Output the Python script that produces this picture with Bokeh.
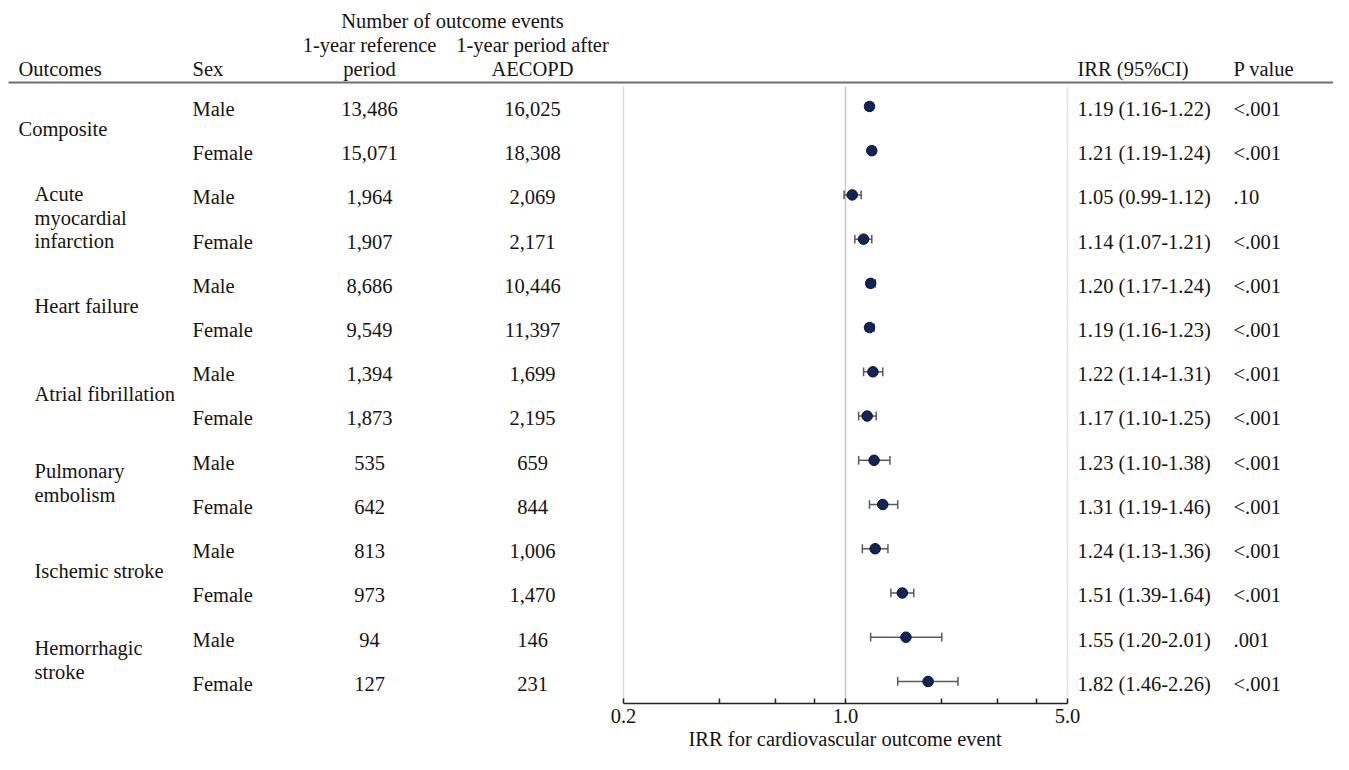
import numpy as np
from bokeh.plotting import figure
from bokeh.models import (Range1d, LogScale, LogAxis, FixedTicker,
                          PrintfTickFormatter, Title)
from bokeh.core.properties import value
from bokeh.embed import file_html
from bokeh.resources import INLINE

# ---------------- data ----------------
outcomes = ["Composite", "Acute\nmyocardial\ninfarction", "Heart failure",
            "Atrial fibrillation", "Pulmonary\nembolism", "Ischemic stroke",
            "Hemorrhagic\nstroke"]
sexes = ["Male", "Female"]
ref_events = [13486, 15071, 1964, 1907, 8686, 9549, 1394, 1873,
              535, 642, 813, 973, 94, 127]
after_events = [16025, 18308, 2069, 2171, 10446, 11397, 1699, 2195,
                659, 844, 1006, 1470, 146, 231]
irr = [1.19, 1.21, 1.05, 1.14, 1.20, 1.19, 1.22, 1.17, 1.23, 1.31, 1.24, 1.51, 1.55, 1.82]
ci_low = [1.16, 1.19, 0.99, 1.07, 1.17, 1.16, 1.14, 1.10, 1.10, 1.19, 1.13, 1.39, 1.20, 1.46]
ci_high = [1.22, 1.24, 1.12, 1.21, 1.24, 1.23, 1.31, 1.25, 1.38, 1.46, 1.36, 1.64, 2.01, 2.26]
p_values = ["<.001", "<.001", ".10", "<.001", "<.001", "<.001", "<.001", "<.001",
            "<.001", "<.001", "<.001", "<.001", ".001", "<.001"]

header_outcomes = "Outcomes"
header_sex = "Sex"
header_counts = "Number of outcome events"
header_ref = ["1-year reference", "period"]
header_after = ["1-year period after", "AECOPD"]
header_irr = "IRR (95%CI)"
header_p = "P value"
axis_major = [0.2, 1.0, 5.0]
axis_minor = [0.4, 0.6, 0.8, 2.0, 3.0, 4.0]
axis_title = "IRR for cardiovascular outcome event"

# ---------------- layout (reference pixel coordinates) ----------------
W, H = 1333, 754
X0, X1 = 0, W
Y_TOP, Y_AXIS = 0, 720
BOTTOM = 51
ROW0, STEP, BASE_OFF = 108.5, 45.3, 9.0
TEXT_DY = -6.5
PX_MIN, PX_MAX = 623, 1067
TITLE_LEFT = 688
FONT = "Liberation Serif"
FS = "20.5px"
TXT = "#141414"
AX_COL = "#222222"
VLINE_COLS = ["#dadada", "#c9c9c9", "#e2e2e2"]

k = np.log10(axis_major[-1] / axis_major[0]) / (PX_MAX - PX_MIN)
irr_lo = 10 ** (np.log10(axis_major[0]) - (PX_MIN - X0) * k)
irr_hi = 10 ** (np.log10(axis_major[-1]) + (X1 - PX_MAX) * k)

p = figure(width=W, height=H, x_range=Range1d(X0, X1), y_range=Range1d(Y_AXIS, Y_TOP),
           x_axis_type=None, y_axis_type=None, output_backend="svg",
           toolbar_location=None, min_border_left=0, min_border_right=0,
           min_border_top=0, min_border_bottom=BOTTOM)
p.extra_x_ranges = {"irr": Range1d(irr_lo, irr_hi)}
p.extra_x_scales = {"irr": LogScale()}
p.outline_line_color = None
p.background_fill_color = "white"
p.border_fill_color = "white"


def txt(xs, ys, texts, align="left"):
    n = len(texts)
    if not isinstance(xs, (list, np.ndarray)):
        xs = [xs] * n
    if not isinstance(ys, (list, np.ndarray)):
        ys = [ys] * n
    p.text(x=list(xs), y=[y + TEXT_DY for y in ys], text=list(texts),
           text_font=value(FONT), text_font_size=FS, text_color=TXT,
           text_align=align, text_baseline="alphabetic")


n = len(irr)
rows = np.arange(n)
yc = ROW0 + STEP * rows
yb = yc + BASE_OFF

COL_OUT, COL_SUB, COL_SEX = 18, 34, 192
COL_REF, COL_AFT, COL_CNT = 369, 532, 452
COL_IRR, COL_P = 1077, 1233
HDR_B1, HDR_B2, HDR_B3 = 27.5, 52, 76.5
RULE_Y = 84

# header
txt(COL_CNT, HDR_B1, [header_counts], "center")
txt(COL_REF, [HDR_B2, HDR_B3], header_ref, "center")
txt(COL_AFT, [HDR_B2, HDR_B3], header_after, "center")
txt(COL_OUT, HDR_B3, [header_outcomes])
txt(COL_SEX, HDR_B3, [header_sex])
txt(COL_IRR, HDR_B3, [header_irr])
txt(COL_P, HDR_B3, [header_p])
p.segment(x0=[X0 + 8], x1=[X1], y0=[RULE_Y], y1=[RULE_Y], line_color="#6f6f6f", line_width=2)

# table body
txt(COL_SEX, yb, [sexes[i % 2] for i in rows])
txt(COL_REF, yb, [f"{v:,}" for v in ref_events], "center")
txt(COL_AFT, yb, [f"{v:,}" for v in after_events], "center")
txt(COL_IRR, yb, [f"{a:.2f} ({b:.2f}-{c:.2f})" for a, b, c in zip(irr, ci_low, ci_high)])
txt(COL_P, yb, p_values)

# outcome labels (centred between the Male/Female rows)
LINE_H = 24
lx, ly, lt = [], [], []
for j, name in enumerate(outcomes):
    parts = name.split("\n")
    mid = (yb[2 * j] + yb[2 * j + 1]) / 2 - 2
    first = mid - (len(parts) - 1) * LINE_H / 2
    for m, part in enumerate(parts):
        lx.append(COL_OUT if j == 0 else COL_SUB)
        ly.append(first + m * LINE_H)
        lt.append(part)
txt(lx, ly, lt)

# forest panel lines
p.segment(x0=axis_major, x1=axis_major, y0=[88] * 3, y1=[Y_AXIS] * 3,
          line_color=VLINE_COLS, line_width=1.5, x_range_name="irr")

# confidence intervals and point estimates
CI_COL = "#5a5a5a"
p.segment(x0=ci_low, x1=ci_high, y0=yc, y1=yc, line_color=CI_COL, line_width=1.5,
          x_range_name="irr")
p.segment(x0=ci_low, x1=ci_low, y0=yc - 4.5, y1=yc + 4.5, line_color=CI_COL,
          line_width=1.5, x_range_name="irr")
p.segment(x0=ci_high, x1=ci_high, y0=yc - 4.5, y1=yc + 4.5, line_color=CI_COL,
          line_width=1.5, x_range_name="irr")
p.scatter(x=irr, y=yc, marker="circle", size=10.5, fill_color="#13245a",
          line_color="#0a1128", line_width=1, x_range_name="irr")

# axis
ax = LogAxis(x_range_name="irr",
             ticker=FixedTicker(ticks=axis_major, minor_ticks=axis_minor),
             formatter=PrintfTickFormatter(format="%.1f"),
             bounds=(axis_major[0], axis_major[-1]))
ax.axis_line_color = AX_COL
ax.axis_line_width = 1.5
ax.major_tick_in = 5
ax.major_tick_out = 0
ax.minor_tick_in = 5
ax.minor_tick_out = 0
ax.major_tick_line_color = AX_COL
ax.minor_tick_line_color = AX_COL
ax.major_tick_line_width = 1.5
ax.minor_tick_line_width = 1.5
ax.major_label_text_font = FONT
ax.major_label_text_font_size = FS
ax.major_label_text_color = TXT
ax.major_label_standoff = 5
p.add_layout(ax, "below")

p.add_layout(Title(text=axis_title, align="left", offset=TITLE_LEFT, standoff=0,
                   text_font=FONT, text_font_size=FS, text_font_style="normal",
                   text_color=TXT), "below")

open("out.html", "w").write(file_html(p, INLINE))
